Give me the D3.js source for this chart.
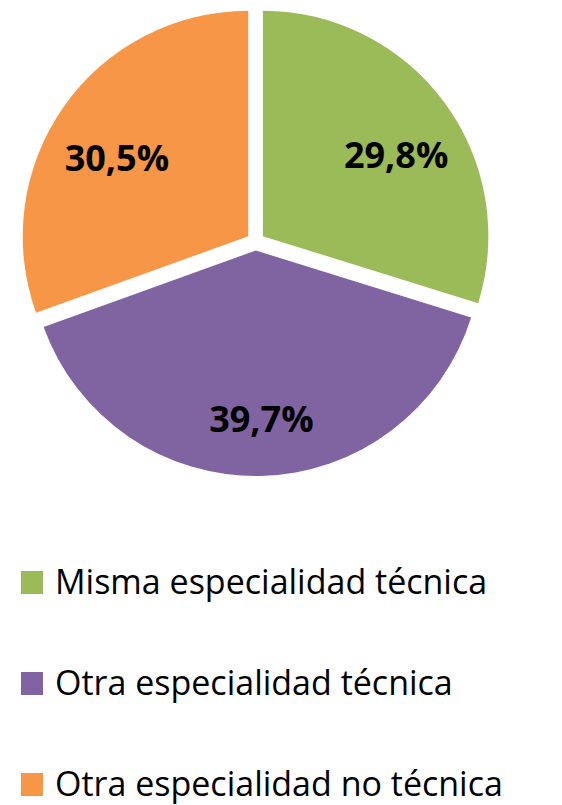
<!DOCTYPE html>
<html>
<head>
<meta charset="utf-8">
<script src="https://cdn.jsdelivr.net/npm/d3@7"></script>
<style>
  body { margin: 0; background: #fff; }
</style>
</head>
<body>
<svg id="chart" width="562" height="805"></svg>
<script>
let categories = ["Misma especialidad técnica", "Otra especialidad técnica", "Otra especialidad no técnica"];
let values = [29.8, 39.7, 30.5];
let labels = ["29,8%", "39,7%", "30,5%"];
let colors = ["#9BBB59", "#8064A2", "#F79646"];

function drawPie(svgId) {
  let svg = d3.select(svgId);

  let cx = 255.6;
  let cy = 241.5;
  let radius = 225.5;
  let explode = 9;

  let pie = d3.pie().sort(null).value(d => d);
  let arcs = pie(values);

  let arc = d3.arc().innerRadius(0).outerRadius(radius);
  // labels sit a bit wider than tall, and slightly lower, like the original
  let labelArcX = d3.arc().innerRadius(163).outerRadius(163);
  let labelArcY = d3.arc().innerRadius(157).outerRadius(157);

  let color = d3.scaleOrdinal().domain(categories).range(colors);

  function offset(d) {
    let a = (d.startAngle + d.endAngle) / 2;
    return [Math.sin(a) * explode, -Math.cos(a) * explode];
  }

  let g = svg.append("g")
    .attr("transform", "translate(" + cx + "," + cy + ")");

  let slices = g.selectAll(".slice")
    .data(arcs)
    .enter()
    .append("g")
    .attr("class", "slice")
    .attr("transform", d => "translate(" + offset(d).join(",") + ")");

  slices.append("path")
    .attr("d", arc)
    .style("fill", (d, i) => color(categories[i]));

  slices.append("text")
    .attr("x", d => labelArcX.centroid(d)[0] + 2)
    .attr("y", d => labelArcY.centroid(d)[1] + 12)
    .attr("dy", "0.36em")
    .attr("text-anchor", "middle")
    .text((d, i) => labels[i])
    .style("font-family", "Open Sans")
    .style("font-weight", "bold")
    .style("font-size", 36)
    .style("fill", "#000");

  // legend
  let legendY = d3.scaleBand()
    .domain(categories)
    .range([532, 835]);

  let legend = svg.selectAll(".legend")
    .data(categories)
    .enter()
    .append("g")
    .attr("class", "legend")
    .attr("transform", d => "translate(0," + legendY(d) + ")");

  legend.append("rect")
    .attr("x", 21)
    .attr("y", 39)
    .attr("width", 22)
    .attr("height", 23)
    .style("fill", d => color(d));

  legend.append("text")
    .attr("x", 55)
    .attr("y", 62)
    .text(d => d)
    .style("font-family", "Open Sans")
    .style("font-size", 34)
    .style("fill", "#000");
}

drawPie("#chart");
</script>
</body>
</html>
